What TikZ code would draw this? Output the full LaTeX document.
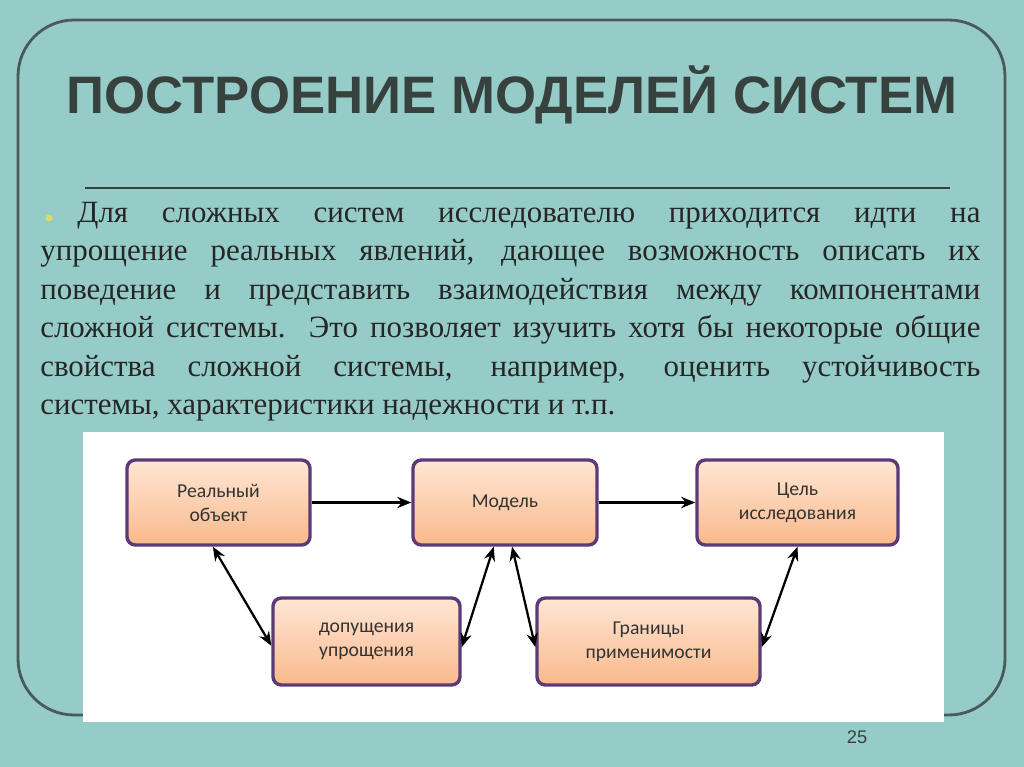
\documentclass[tikz,border=0pt]{standalone}
\usepackage{fontspec}
\setmainfont{Liberation Serif}
\newfontfamily\hd{Liberation Sans}
\newfontfamily\bx{Carlito}
\usetikzlibrary{arrows.meta}
\definecolor{bg}{HTML}{96CCC8}
\definecolor{frm}{HTML}{4A5A58}
\definecolor{ttl}{HTML}{37423F}
\definecolor{pur}{HTML}{5B3A78}
\definecolor{pk1}{HTML}{FFE6D4}
\definecolor{pk2}{HTML}{F9B98C}
\tikzset{x=0.025cm,y=-0.025cm,
 bbox/.style={draw=pur,line width=2.4pt,rounded corners=6pt,top color=pk1,bottom color=pk2,font=\bx\fontsize{14}{17}\selectfont,align=center,text=black!80},
 ar/.style={-{Stealth[length=10pt,width=8pt]},line width=1.6pt},
 dar/.style={{Stealth[length=10pt,width=8pt]}-{Stealth[length=10pt,width=8pt]},line width=1.6pt}}
\begin{document}
\begin{tikzpicture}
\useasboundingbox (0,0) rectangle (1024,767);
\fill[bg] (0,0) rectangle (1024,767);
\draw[frm,line width=2pt,rounded corners=40pt] (18,20) rectangle (1005,715);
\node[font=\hd\bfseries\fontsize{37.5}{42}\selectfont,text=ttl] (title) at (512,95) {ПОСТРОЕНИЕ МОДЕЛЕЙ СИСТЕМ};
\draw[ttl,line width=2pt] (85,188) -- (950,188);
\node[anchor=north west,text width=23.5cm,align=justify,inner sep=0pt,font=\fontsize{22}{27.3}\selectfont,text=black!85] (body) at (40,202)
{\hspace*{1.2em}Для сложных систем исследователю приходится идти на\linebreak упрощение реальных явлений, дающее возможность описать их\linebreak поведение и представить взаимодействия между компонентами\linebreak сложной системы. Это позволяет изучить хотя бы некоторые общие\linebreak свойства сложной системы, например, оценить устойчивость\linebreak системы, характеристики надежности и т.п.};
\fill[yellow!60!bg] (49,218) circle (3.5);
\fill[white] (83,432) rectangle (944,722);
\node[bbox,minimum width=4.575cm,minimum height=2.125cm] (r) at (218.5,502.5) {Реальный\\объект};
\node[bbox,minimum width=4.6cm,minimum height=2.125cm] (m) at (505,502.5) {Модель};
\node[bbox,minimum width=5.025cm,minimum height=2.125cm] (c) at (797.5,502.5) {Цель\\исследования};
\node[bbox,minimum width=4.675cm,minimum height=2.175cm] (d) at (366.5,641.5) {допущения\\упрощения};
\node[bbox,minimum width=5.575cm,minimum height=2.175cm] (g) at (648.5,641.5) {Границы\\применимости};
\draw[ar] (r.east) -- (m.west);
\draw[ar] (m.east) -- (c.west);
\draw[dar] ([xshift=-4pt]r.south) -- ([yshift=-3pt]d.west);
\draw[dar] ([xshift=-8pt]m.south) -- ([yshift=-4pt]d.east);
\draw[dar] ([xshift=5pt]m.south) -- ([yshift=-4pt]g.west);
\draw[dar] (c.south) -- ([yshift=-4pt]g.east);
\node[font=\hd\fontsize{13}{15}\selectfont,text=ttl] (num) at (857,737) {25};
\end{tikzpicture}
\end{document}
